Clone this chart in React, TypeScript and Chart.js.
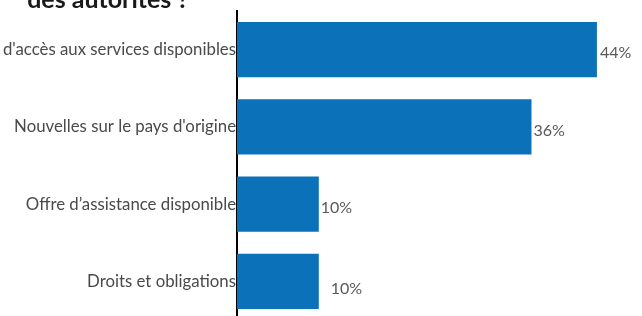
import React, { useEffect, useRef } from "react";
import { Chart, registerables } from "chart.js";

Chart.register(...registerables);

const categories = [
  "Moyens d'accès aux services disponibles",
  "Nouvelles sur le pays d'origine",
  "Offre d’assistance disponible",
  "Droits et obligations",
];
const values = [44, 36, 10, 10];
const titleLines = ["Quelles informations avez-vous reçues de la part", "des autorités ?"];

const labelPlugin = {
  id: "valueLabels",
  afterDatasetsDraw(chart: any, _args: any, opts: any) {
    const ctx = chart.ctx;
    const meta = chart.getDatasetMeta(0);
    ctx.save();
    ctx.font = "16px Lato";
    ctx.fillStyle = "#595959";
    ctx.textAlign = "left";
    ctx.textBaseline = "middle";
    meta.data.forEach((bar: any, i: number) => {
      const v = chart.data.datasets[0].data[i];
      const sh = (opts.shifts && opts.shifts[i]) || [0, 0];
      ctx.fillText(`${v}%`, bar.x + 3 + sh[0], bar.y + 3.5 + sh[1]);
    });
    ctx.restore();
  },
};

export default function App() {
  const ref = useRef<HTMLCanvasElement | null>(null);
  useEffect(() => {
    if (!ref.current) return;
    const chart = new Chart(ref.current, {
      type: "bar",
      data: {
        labels: categories,
        datasets: [
          {
            data: values,
            backgroundColor: "#0B72BA",
            borderWidth: 0,
            barPercentage: 0.89,
            categoryPercentage: 0.8,
          },
        ],
      },
      options: {
        indexAxis: "y",
        animation: false,
        responsive: false,
        layout: { padding: { left: 0, right: 4, top: 0, bottom: 0 } },
        plugins: {
          legend: { display: false },
          tooltip: { enabled: false },
          title: {
            display: true,
            text: titleLines,
            color: "#1a1a1a",
            font: { family: "Lato", size: 25, weight: "bold", lineHeight: 1.0 },
            padding: { top: 2, bottom: -1 },
          },
          valueLabels: { shifts: [[0, 0], [-1, 0.5], [-1, 0], [9, 3.5]] },
        } as any,
        scales: {
          x: { display: false, min: 0, max: 50 },
          y: {
            grid: { display: false, drawTicks: false },
            border: { display: true, color: "#000", width: 2 },
            ticks: {
              color: "#4a4a4a",
              padding: 1,
              font: { family: "Lato", size: 16.8 },
            },
            afterFit: (scale: any) => {
              scale.width = 667;
              scale.paddingTop = 0;
              scale.paddingBottom = 0;
            },
          },
        },
      },
      plugins: [labelPlugin],
    });
    return () => chart.destroy();
  }, []);
  return (
    <div style={{ position: "fixed", left: 0, top: 0, width: 642, height: 316, overflow: "hidden", background: "#fff" }}>
      <div style={{ position: "absolute", left: -430, top: -40, width: 1080, height: 360 }}>
        <canvas ref={ref} width={1080} height={360} style={{ width: 1080, height: 360 }} />
      </div>
    </div>
  );
}
